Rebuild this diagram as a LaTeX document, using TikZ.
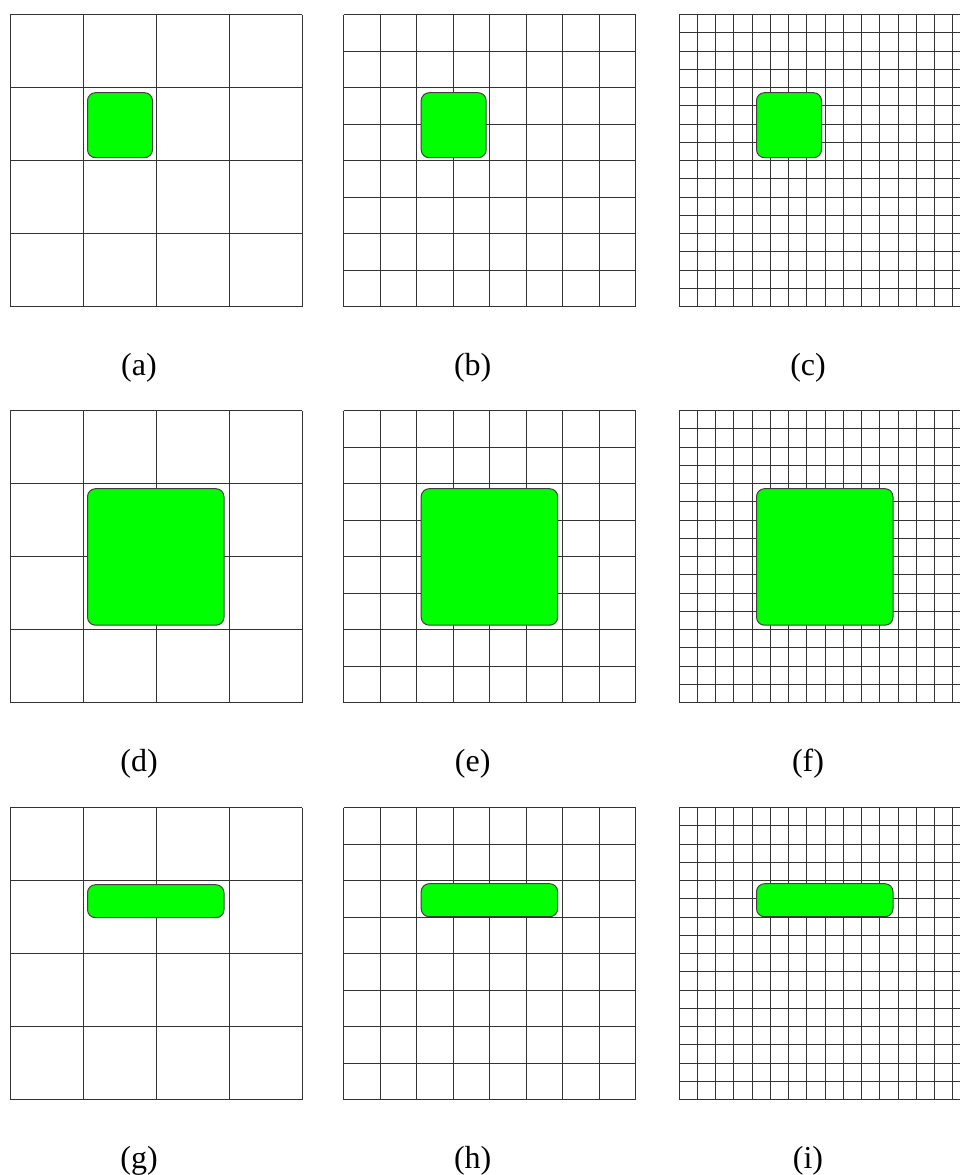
\documentclass[tikz,border=0pt]{standalone}
\usepackage{fontspec}
\setmainfont{Liberation Serif}
\newcommand\drawpanel[8]{% x0,y0,n,w,h,label,name,blob y offset
  \pgfmathsetmacro\pstep{292/#3}
  \foreach \i in {0,...,#3} {
    \draw[gridline] ({#1+\i*\pstep},#2) -- ({#1+\i*\pstep},{#2+292});
    \draw[gridline] (#1,{#2+\i*\pstep}) -- ({#1+292},{#2+\i*\pstep});
  }
  \draw[blob] ({#1+77.5},{#2+#8}) rectangle ++(#4,#5);
  \node[lbl] (#7) at ({#1+129},{#2+353}) {#6};
}
\begin{document}
\begin{tikzpicture}[x=1pt,y=-1pt,
  gridline/.style={draw=black!80, line width=1pt},
  blob/.style={fill={rgb,255:red,0;green,255;blue,0}, draw=black!75, line width=1pt, rounded corners=8pt},
  lbl/.style={font=\fontsize{32}{38}\selectfont, inner sep=0pt}]
\useasboundingbox (0,0) rectangle (960,1175);
\clip (0,0) rectangle (960,1175);
\fill[white] (0,0) rectangle (960,1175);
% row 1
\drawpanel{10}{14.7}{4}{65}{65}{(a)}{la}{78}
\drawpanel{343.7}{14.7}{8}{65}{65}{(b)}{lb}{78}
\drawpanel{679}{14.7}{16}{65}{65}{(c)}{lc}{78}
% row 2
\drawpanel{10}{410.7}{4}{136.5}{136.5}{(d)}{ld}{78}
\drawpanel{343.7}{410.7}{8}{136.5}{136.5}{(e)}{le}{78}
\drawpanel{679}{410.7}{16}{136.5}{136.5}{(f)}{lf}{78}
% row 3
\drawpanel{10}{807.7}{4}{136.5}{33}{(g)}{lg}{77}
\drawpanel{343.7}{807.7}{8}{136.5}{33}{(h)}{lh}{76}
\drawpanel{679}{807.7}{16}{136.5}{33}{(i)}{li}{76}
\end{tikzpicture}
\end{document}
